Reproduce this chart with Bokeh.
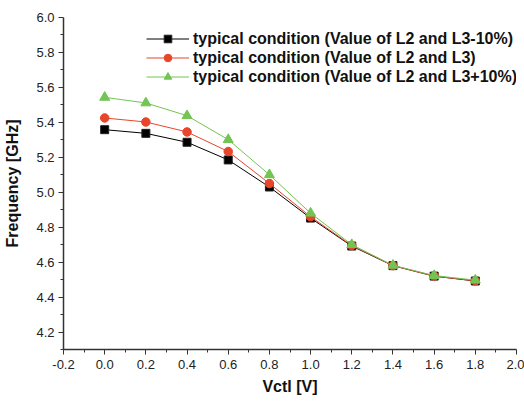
from bokeh.plotting import figure
from bokeh.models import Range1d, Legend, LegendItem, FixedTicker
from bokeh.embed import file_html
from bokeh.resources import INLINE

vctl = [0.0, 0.2, 0.4, 0.6, 0.8, 1.0, 1.2, 1.4, 1.6, 1.8]
freq_minus10 = [5.358, 5.337, 5.286, 5.185, 5.030, 4.852, 4.692, 4.580, 4.520, 4.492]
freq_nominal = [5.425, 5.402, 5.345, 5.233, 5.050, 4.860, 4.695, 4.580, 4.520, 4.493]
freq_plus10 = [5.543, 5.511, 5.438, 5.301, 5.100, 4.880, 4.700, 4.582, 4.523, 4.497]
labels = ["typical condition (Value of L2 and L3-10%)",
          "typical condition (Value of L2 and L3)",
          "typical condition (Value of L2 and L3+10%)"]
x_ticks = [-0.2, 0.0, 0.2, 0.4, 0.6, 0.8, 1.0, 1.2, 1.4, 1.6, 1.8, 2.0]
y_ticks = [4.2, 4.4, 4.6, 4.8, 5.0, 5.2, 5.4, 5.6, 5.8, 6.0]

BLACK = "#000000"
RED = "#e8452a"
GREEN = "#72c453"

p = figure(width=524, height=401, output_backend="svg", toolbar_location=None,
           x_range=Range1d(-0.2, 2.0), y_range=Range1d(4.1, 6.0),
           min_border_left=63, min_border_right=8, min_border_top=17, min_border_bottom=52)
p.outline_line_color = None
p.xgrid.visible = False
p.ygrid.visible = False

r1l = p.line(vctl, freq_minus10, color=BLACK, line_width=1)
r1m = p.scatter(vctl, freq_minus10, marker="square", size=8, fill_color=BLACK, line_color="#222222")
r2l = p.line(vctl, freq_nominal, color=RED, line_width=1)
r2m = p.scatter(vctl, freq_nominal, marker="circle", size=8.5, fill_color=RED, line_color=RED)
r3l = p.line(vctl, freq_plus10, color=GREEN, line_width=1)
r3m = p.scatter(vctl, freq_plus10, marker="triangle", size=10, fill_color=GREEN, line_color=GREEN)

legend = Legend(items=[LegendItem(label=labels[0], renderers=[r1l, r1m]),
                       LegendItem(label=labels[1], renderers=[r2l, r2m]),
                       LegendItem(label=labels[2], renderers=[r3l, r3m])],
                location=(83, 263), padding=0, margin=0, spacing=0,
                glyph_width=43, glyph_height=19, label_height=19, label_standoff=4,
                border_line_color=None, background_fill_alpha=0,
                label_text_font="Liberation Sans", label_text_font_style="bold",
                label_text_font_size="16px", label_text_color="#111111")
p.add_layout(legend, "center")

for ax in (p.xaxis[0], p.yaxis[0]):
    ax.axis_line_color = "#333333"
    ax.axis_line_width = 1.5
    ax.major_tick_line_color = "#333333"
    ax.minor_tick_line_color = "#333333"
    ax.major_tick_in = 0
    ax.major_tick_out = 5
    ax.minor_tick_in = 0
    ax.minor_tick_out = 3
    ax.major_label_text_font = "Liberation Sans"
    ax.major_label_text_font_size = "13px"
    ax.major_label_text_color = "#222222"
    ax.axis_label_text_font = "Liberation Sans"
    ax.axis_label_text_font_style = "bold"
    ax.axis_label_text_font_size = "16px"
    ax.axis_label_text_color = "#111111"

p.xaxis.ticker = FixedTicker(ticks=x_ticks, minor_ticks=[-0.1 + 0.2 * i for i in range(11)])
p.yaxis.ticker = FixedTicker(ticks=y_ticks, minor_ticks=[4.1 + 0.2 * i for i in range(10)])
p.xaxis.major_label_overrides = {t: f"{t:.1f}" for t in x_ticks}
p.yaxis.major_label_overrides = {t: f"{t:.1f}" for t in y_ticks}
p.xaxis.axis_label = "Vctl [V]"
p.yaxis.axis_label = "Frequency [GHz]"
p.xaxis.axis_label_standoff = 6
p.yaxis.axis_label_standoff = 12
p.xaxis.major_label_standoff = 5
p.yaxis.major_label_standoff = 4

open("out.html", "w").write(file_html(p, INLINE))
